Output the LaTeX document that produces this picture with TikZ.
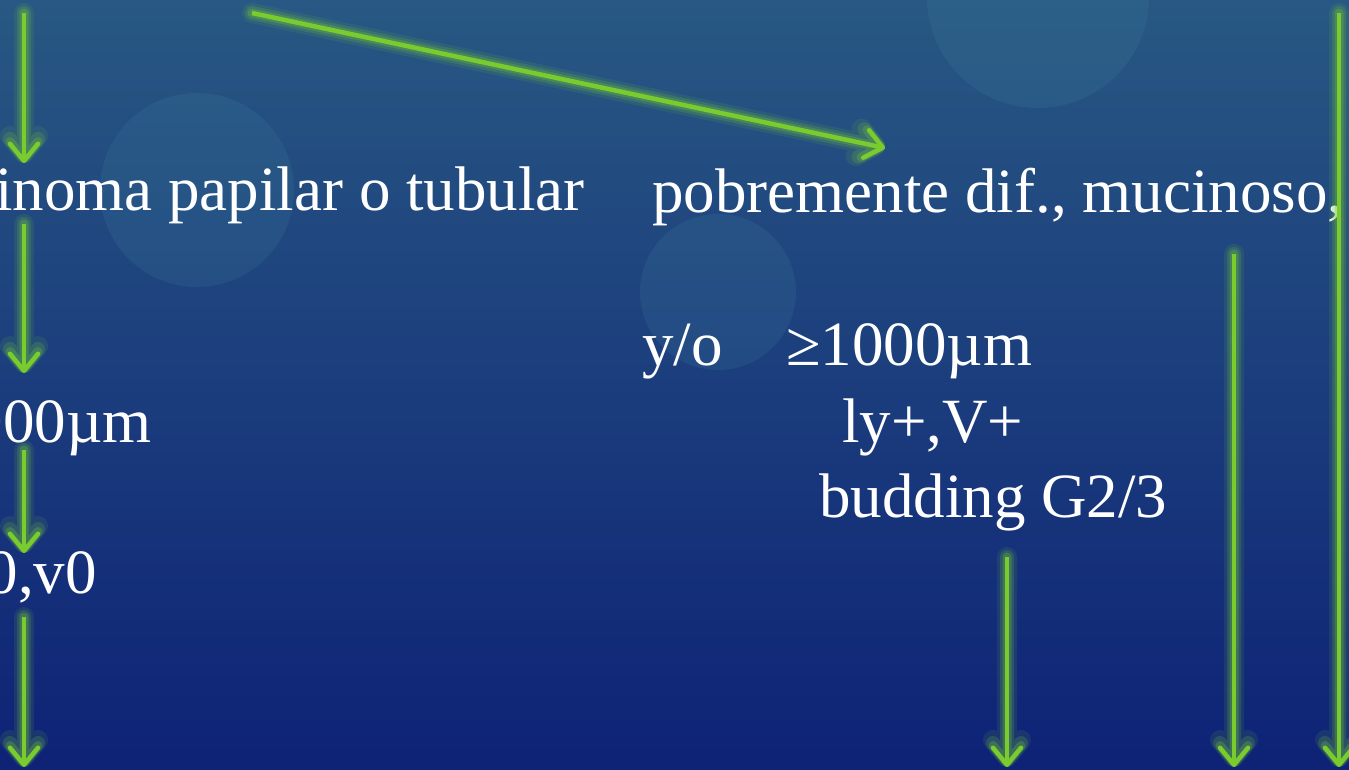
\documentclass[tikz,border=0pt]{standalone}
\usepackage{fontspec}
\setmainfont{Liberation Serif}
\usetikzlibrary{arrows.meta}
\definecolor{bgtop}{RGB}{40,88,131}
\definecolor{bgmid}{RGB}{30,62,126}
\definecolor{bgbot}{RGB}{14,34,118}
\definecolor{bokeh}{RGB}{70,140,165}
\definecolor{arrowgreen}{RGB}{122,204,46}
\definecolor{glowgreen}{RGB}{110,190,60}
\tikzset{
  txt/.style={inner sep=0pt, text=white, font=\fontsize{63}{70}\selectfont},
  bubble/.style={fill=bokeh, fill opacity=0.16, draw=none},
  tip/.style={-{Straight Barb[length=17pt,width=28pt,line cap=round,line join=round]}},
  coreline/.style={draw=arrowgreen, line width=4.5pt, tip},
  glowline/.style={draw=glowgreen, line width=#1, line cap=round, line join=round, tip},
}
\newcommand\glowarrow[2]{%
  \begin{scope}[transparency group, opacity=0.12]
    \draw[glowline=20pt] (#1) -- (#2);
  \end{scope}
  \begin{scope}[transparency group, opacity=0.2]
    \draw[glowline=14pt] (#1) -- (#2);
  \end{scope}
  \begin{scope}[transparency group, opacity=0.3]
    \draw[glowline=9pt] (#1) -- (#2);
  \end{scope}
  \draw[coreline] (#1) -- (#2);}
\begin{document}
\begin{tikzpicture}[x=1pt,y=-1pt]
  \useasboundingbox (0,0) rectangle (1349,770);
  \clip (0,0) rectangle (1349,770);
  \shade[top color=bgtop, middle color=bgmid, bottom color=bgbot] (0,0) rectangle (1349,770);
  % bokeh circles
  \fill[bubble] (197,190) circle (97);
  \fill[bubble] (718,292) circle (78);
  \fill[bubble] (1038,-3) circle (111);
  % texts
  \node[txt, anchor=base west] (t1) at (-5,211) {inoma papilar o tubular};
  \node[txt, anchor=base west] (t2) at (652,212) {pobremente dif., mucinoso,};
  \node[txt, anchor=base west] (t3) at (642,365) {y/o};
  \node[txt, anchor=base west] (t3b) at (786,365) {≥1000µm};
  \node[txt, anchor=base west] (t4) at (842,442) {ly+,V+};
  \node[txt, anchor=base west] (t5) at (819,517) {budding G2/3};
  \node[txt, anchor=base east] (t6) at (152,442) {000µm};
  \node[txt, anchor=base east] (t7) at (97,593) {0,v0};
  % arrow end points
  \coordinate (a1s) at (24,13);   \coordinate (a1e) at (24,163);
  \coordinate (a2s) at (24,224);  \coordinate (a2e) at (24,373);
  \coordinate (a3s) at (24,450);  \coordinate (a3e) at (24,553);
  \coordinate (a4s) at (24,617);  \coordinate (a4e) at (24,767);
  \coordinate (dgs) at (252,13);  \coordinate (dge) at (885,148);
  \coordinate (a5s) at (1007,557); \coordinate (a5e) at (1007,767);
  \coordinate (a6s) at (1234,254); \coordinate (a6e) at (1234,767);
  \coordinate (a7s) at (1339,13);  \coordinate (a7e) at (1339,767);
  \glowarrow{a1s}{a1e}
  \glowarrow{a2s}{a2e}
  \glowarrow{a3s}{a3e}
  \glowarrow{a4s}{a4e}
  \glowarrow{dgs}{dge}
  \glowarrow{a5s}{a5e}
  \glowarrow{a6s}{a6e}
  \glowarrow{a7s}{a7e}
\end{tikzpicture}
\end{document}
